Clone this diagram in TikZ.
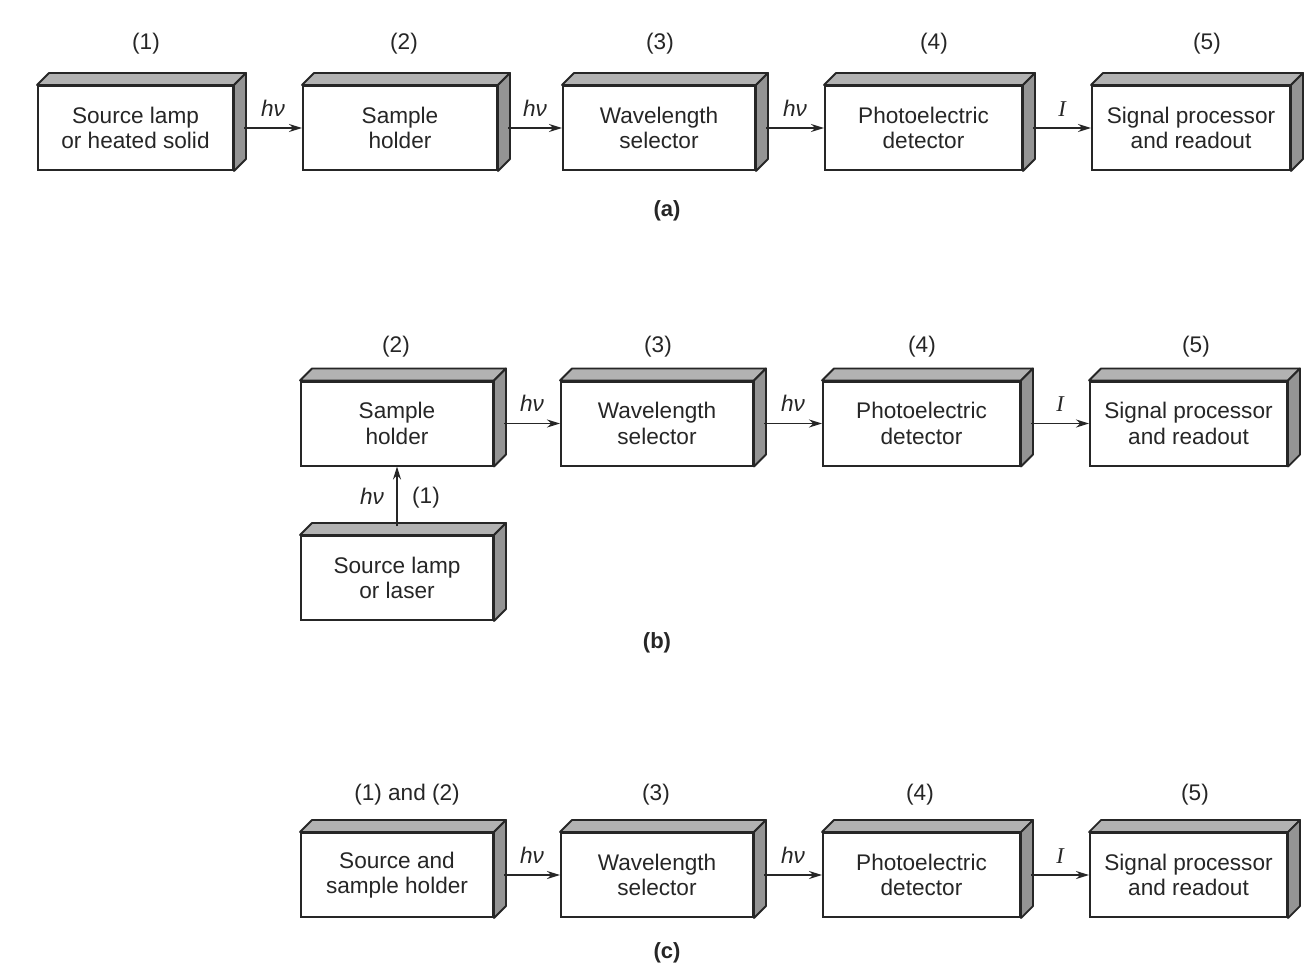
\documentclass[tikz,border=0pt]{standalone}
\usepackage{fontspec}
\setmainfont{Liberation Sans}
\newfontfamily\serifI{Liberation Serif}
\usetikzlibrary{calc,arrows.meta}
\definecolor{ink}{gray}{0.15}
\definecolor{topface}{gray}{0.70}
\definecolor{sideface}{gray}{0.58}
\tikzset{
  blk/.style={draw=ink, line width=1pt, fill=white, minimum width=97pt, minimum height=42pt,
    align=center, inner sep=0pt, font=\fontsize{11.3}{12.6}\selectfont, text=ink},
  conn/.style={draw=ink, line width=0.9pt, -{Stealth[length=6.5pt,width=4pt]}},
  lbl/.style={font=\fontsize{11.3}{12}\selectfont, text=ink},
  sym/.style={font=\fontsize{11.3}{12}\selectfont\itshape, text=ink},
  captxt/.style={font=\fontsize{11}{12}\selectfont\bfseries, text=ink},
  face/.style={draw=ink, line width=0.9pt, line join=round}
}
\newcommand\threed[1]{%
  \path[face, fill=topface] (#1.north west) -- ++(12,-12) -- ($(#1.north east)+(12,-12)$) -- (#1.north east) -- cycle;
  \path[face, fill=sideface] (#1.north east) -- ++(12,-12) -- ($(#1.south east)+(12,-12)$) -- (#1.south east) -- cycle;
}
\begin{document}
\begin{tikzpicture}[x=0.5pt,y=-0.5pt]
\useasboundingbox[fill=white] (0,0) rectangle (1311,974);

% ---------- (a)
\node[blk, minimum width=97.5pt] (a1) at (135.5,128) {Source lamp\\or heated solid};
\node[blk] (a2) at (400,128) {Sample\\holder};
\node[blk, minimum width=96pt] (a3) at (659,128) {Wavelength\\selector};
\node[blk, minimum width=98.5pt] (a4) at (923.5,128) {Photoelectric\\detector};
\node[blk, minimum width=99pt] (a5) at (1191,128) {Signal processor\\and readout};
\foreach \n in {a1,a2,a3,a4,a5} {\threed{\n}}
\node[lbl] (na1) at (146,44) {(1)};
\node[lbl] (na2) at (404,44) {(2)};
\node[lbl] (na3) at (660,44) {(3)};
\node[lbl] (na4) at (934,44) {(4)};
\node[lbl] (na5) at (1207,44) {(5)};
\draw[conn] ([xshift=5pt]a1.east) -- node[sym, above=2pt] {hν} (a2.west);
\draw[conn] ([xshift=5pt]a2.east) -- node[sym, above=2pt] {hν} (a3.west);
\draw[conn] ([xshift=5pt]a3.east) -- node[sym, above=2pt] {hν} (a4.west);
\draw[conn] ([xshift=5pt]a4.east) -- node[sym, above=2pt] {\serifI\itshape I} (a5.west);
\node[captxt] (capa) at (667,211) {(a)};

% ---------- (b)
\node[blk, minimum width=96pt] (b2) at (397,423.5) {Sample\\holder};
\node[blk, minimum width=96pt] (b3) at (657,423.5) {Wavelength\\selector};
\node[blk, minimum width=98.5pt] (b4) at (921.5,423.5) {Photoelectric\\detector};
\node[blk, minimum width=98.5pt] (b5) at (1188.5,423.5) {Signal processor\\and readout};
\node[blk, minimum width=96pt] (b1) at (397,578) {Source lamp\\or laser};
\foreach \n in {b1,b2,b3,b4,b5} {\threed{\n}}
\node[lbl] (nb2) at (396,347) {(2)};
\node[lbl] (nb3) at (658,347) {(3)};
\node[lbl] (nb4) at (922,347) {(4)};
\node[lbl] (nb5) at (1196,347) {(5)};
\draw[conn] ([xshift=5pt]b2.east) -- node[sym, above=2pt] {hν} (b3.west);
\draw[conn] ([xshift=5pt]b3.east) -- node[sym, above=2pt] {hν} (b4.west);
\draw[conn] ([xshift=5pt]b4.east) -- node[sym, above=2pt] {\serifI\itshape I} (b5.west);
\draw[conn] ([yshift=4.5pt]b1.north) -- (b2.south);
\node[sym] (hvb) at (372,496) {hν};
\node[lbl] (nb1) at (426,498) {(1)};
\node[captxt] (capb) at (657,643) {(b)};

% ---------- (c)
\node[blk, minimum width=96pt] (c12) at (397,875) {Source and\\sample holder};
\node[blk, minimum width=96pt] (c3) at (657,875) {Wavelength\\selector};
\node[blk, minimum width=98.5pt] (c4) at (921.5,875) {Photoelectric\\detector};
\node[blk, minimum width=98.5pt] (c5) at (1188.5,875) {Signal processor\\and readout};
\foreach \n in {c12,c3,c4,c5} {\threed{\n}}
\node[lbl] (nc12) at (407,795) {(1) and (2)};
\node[lbl] (nc3) at (656,795) {(3)};
\node[lbl] (nc4) at (920,795) {(4)};
\node[lbl] (nc5) at (1195,795) {(5)};
\draw[conn] ([xshift=5pt]c12.east) -- node[sym, above=2pt] {hν} (c3.west);
\draw[conn] ([xshift=5pt]c3.east) -- node[sym, above=2pt] {hν} (c4.west);
\draw[conn] ([xshift=5pt]c4.east) -- node[sym, above=2pt] {\serifI\itshape I} (c5.west);
\node[captxt] (capc) at (667,953) {(c)};
\end{tikzpicture}
\end{document}
